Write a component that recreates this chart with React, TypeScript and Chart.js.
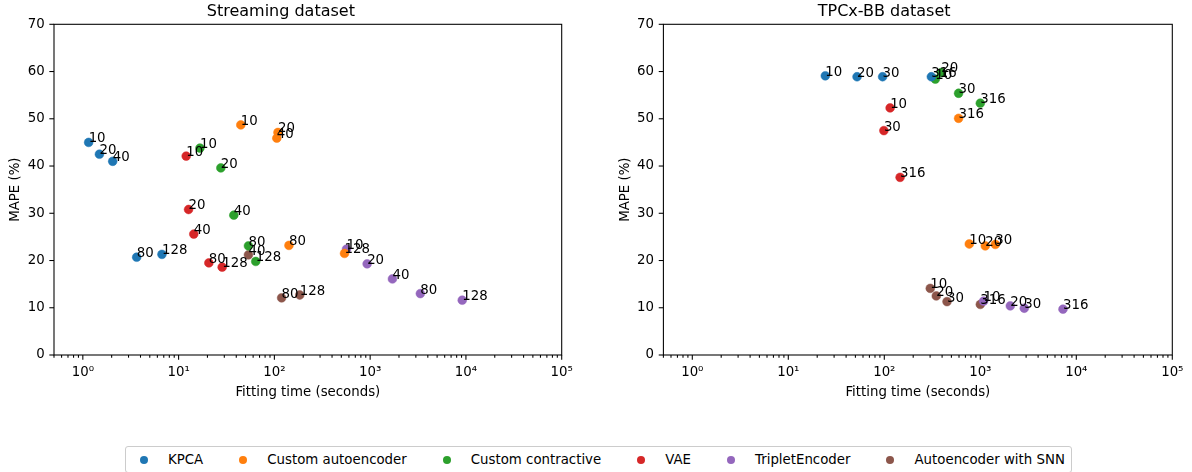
import React, { useEffect, useRef } from 'react';
import { Chart, registerables } from 'chart.js';

Chart.register(...registerables);

// ---------- data ----------
const methods = ['KPCA', 'Custom autoencoder', 'Custom contractive', 'VAE', 'TripletEncoder', 'Autoencoder with SNN'];
const methodColors = ['#1f77b4', '#ff7f0e', '#2ca02c', '#d62728', '#9467bd', '#8c564b'];

const xTickValues = [1, 10, 100, 1000, 10000, 100000];
const yTickValues = [0, 10, 20, 30, 40, 50, 60, 70];

// Streaming dataset
const streamKpcaDims = [10, 20, 40, 80, 128];
const streamKpcaTime = [1.15, 1.49, 2.05, 3.65, 6.7];
const streamKpcaMape = [45.0, 42.5, 41.0, 20.7, 21.3];

const streamAeDims = [10, 20, 40, 80, 128];
const streamAeTime = [44.6, 109, 106, 142, 540];
const streamAeMape = [48.7, 47.1, 45.9, 23.2, 21.5];

const streamCaeDims = [10, 20, 40, 80, 128];
const streamCaeTime = [16.7, 27.6, 37.7, 53.6, 63.9];
const streamCaeMape = [43.8, 39.6, 29.6, 23.1, 19.8];

const streamVaeDims = [10, 20, 40, 80, 128];
const streamVaeTime = [12.0, 12.7, 14.4, 20.7, 28.5];
const streamVaeMape = [42.1, 30.8, 25.6, 19.5, 18.6];

const streamTripletDims = [10, 20, 40, 80, 128];
const streamTripletTime = [566, 930, 1708, 3342, 9150];
const streamTripletMape = [22.4, 19.3, 16.1, 13.0, 11.6];

const streamSnnDims = [40, 80, 128];
const streamSnnTime = [53.6, 119, 184];
const streamSnnMape = [21.2, 12.1, 12.7];

// TPCx-BB dataset
const tpcKpcaDims = [10, 20, 30, 316];
const tpcKpcaTime = [24.3, 52, 96, 309];
const tpcKpcaMape = [59.1, 58.9, 58.9, 58.9];

const tpcAeDims = [10, 20, 30, 316];
const tpcAeTime = [768, 1127, 1433, 594];
const tpcAeMape = [23.5, 23.1, 23.4, 50.1];

const tpcCaeDims = [10, 20, 30, 316];
const tpcCaeTime = [340, 393, 594, 1000];
const tpcCaeMape = [58.4, 59.8, 55.4, 53.3];

const tpcVaeDims = [10, 30, 316];
const tpcVaeTime = [115, 99, 146];
const tpcVaeMape = [52.3, 47.5, 37.6];

const tpcTripletDims = [10, 20, 30, 316];
const tpcTripletTime = [1082, 2054, 2871, 7265];
const tpcTripletMape = [11.4, 10.4, 9.9, 9.7];

const tpcSnnDims = [10, 20, 30, 316];
const tpcSnnTime = [301, 348, 450, 1000];
const tpcSnnMape = [14.1, 12.5, 11.3, 10.7];

type Series = { dims: number[]; time: number[]; mape: number[] };

const streamSeries: Series[] = [
  { dims: streamKpcaDims, time: streamKpcaTime, mape: streamKpcaMape },
  { dims: streamAeDims, time: streamAeTime, mape: streamAeMape },
  { dims: streamCaeDims, time: streamCaeTime, mape: streamCaeMape },
  { dims: streamVaeDims, time: streamVaeTime, mape: streamVaeMape },
  { dims: streamTripletDims, time: streamTripletTime, mape: streamTripletMape },
  { dims: streamSnnDims, time: streamSnnTime, mape: streamSnnMape },
];

const tpcSeries: Series[] = [
  { dims: tpcKpcaDims, time: tpcKpcaTime, mape: tpcKpcaMape },
  { dims: tpcAeDims, time: tpcAeTime, mape: tpcAeMape },
  { dims: tpcCaeDims, time: tpcCaeTime, mape: tpcCaeMape },
  { dims: tpcVaeDims, time: tpcVaeTime, mape: tpcVaeMape },
  { dims: tpcTripletDims, time: tpcTripletTime, mape: tpcTripletMape },
  { dims: tpcSnnDims, time: tpcSnnTime, mape: tpcSnnMape },
];

// ---------- styling ----------
const FONT = '"DejaVu Sans", "Liberation Sans", sans-serif';
const FS = 13.33;
const SUP = ['⁰', '¹', '²', '³', '⁴', '⁵', '⁶'];

const mplPlugin = {
  id: 'mplAxes',
  afterDatasetsDraw(chart: any) {
    const { ctx, chartArea: a, scales } = chart;
    const x = scales.x;
    const y = scales.y;
    ctx.save();
    ctx.strokeStyle = '#000';
    ctx.lineWidth = 1.07;
    // ticks on x (major + minor)
    for (let e = -1; e <= 5; e++) {
      for (let m = 1; m <= 9; m++) {
        const v = m * Math.pow(10, e);
        if (v < x.min * 0.999 || v > x.max * 1.001) continue;
        const px = x.getPixelForValue(v);
        const len = m === 1 ? 4.67 : 2.67;
        ctx.beginPath();
        ctx.moveTo(px, a.bottom);
        ctx.lineTo(px, a.bottom + len);
        ctx.stroke();
      }
    }
    // ticks on y
    yTickValues.forEach((v) => {
      const py = y.getPixelForValue(v);
      ctx.beginPath();
      ctx.moveTo(a.left - 4.67, py);
      ctx.lineTo(a.left, py);
      ctx.stroke();
    });
    // frame
    ctx.strokeRect(a.left, a.top, a.right - a.left, a.bottom - a.top);

    // point annotations
    ctx.fillStyle = '#000';
    ctx.font = `${FS}px ${FONT}`;
    ctx.textAlign = 'left';
    ctx.textBaseline = 'alphabetic';
    chart.data.datasets.forEach((ds: any, i: number) => {
      const meta = chart.getDatasetMeta(i);
      meta.data.forEach((el: any, j: number) => {
        ctx.fillText(String(ds.dims[j]), el.x, el.y);
      });
    });
    ctx.restore();
  },
};

type PanelProps = {
  title: string;
  series: Series[];
  left: number;
  yWidth: number;
  padRight: number;
  yTitlePad: number;
};

function Panel({ title, series, left, yWidth, padRight, yTitlePad }: PanelProps) {
  const ref = useRef<HTMLCanvasElement | null>(null);
  useEffect(() => {
    if (!ref.current) return;
    const datasets = series.map((s, i) => ({
      label: methods[i],
      data: s.time.map((t, j) => ({ x: t, y: s.mape[j] })),
      dims: s.dims,
      backgroundColor: methodColors[i],
      borderColor: methodColors[i],
      borderWidth: 0.5,
      pointRadius: 4.4,
      pointHoverRadius: 4.4,
      showLine: false,
    }));
    const tickFont = { family: FONT, size: FS };
    const chart = new Chart(ref.current, {
      type: 'scatter',
      data: { datasets } as any,
      options: {
        responsive: false,
        animation: false,
        devicePixelRatio: 1,
        layout: { padding: { left: 0, right: padRight, top: 0, bottom: 0 } },
        plugins: {
          legend: { display: false },
          tooltip: { enabled: false },
          title: {
            display: true,
            text: title,
            color: '#000',
            font: { family: FONT, size: 16, weight: 'normal' },
            padding: { top: 2, bottom: 3.1 },
          },
        },
        scales: {
          x: {
            type: 'logarithmic',
            min: 0.5,
            max: 100000,
            afterFit: (s: any) => {
              s.height = 46;
            },
            afterBuildTicks: (s: any) => {
              s.ticks = xTickValues.map((v) => ({ value: v }));
            },
            ticks: {
              autoSkip: false,
              maxRotation: 0,
              minRotation: 0,
              padding: 4.67,
              color: '#000',
              font: tickFont,
              callback: (v: any) => '10' + SUP[Math.round(Math.log10(Number(v)))],
            },
            grid: { display: false, drawTicks: true, tickLength: 4.67 },
            border: { display: false },
            title: {
              display: true,
              text: 'Fitting time (seconds)',
              color: '#000',
              font: tickFont,
              padding: { top: 0, bottom: 0 },
            },
          },
          y: {
            type: 'linear',
            min: 0,
            max: 70,
            afterFit: (s: any) => {
              s.width = yWidth;
            },
            afterBuildTicks: (s: any) => {
              s.ticks = yTickValues.map((v) => ({ value: v }));
            },
            ticks: {
              padding: 4.67,
              color: '#000',
              font: tickFont,
              callback: (v: any) => String(v),
            },
            grid: { display: false, drawTicks: true, tickLength: 4.67 },
            border: { display: false },
            title: {
              display: true,
              text: 'MAPE (%)',
              color: '#000',
              font: tickFont,
              padding: { top: yTitlePad, bottom: 0 },
            },
          },
        },
      } as any,
      plugins: [mplPlugin],
    });
    return () => chart.destroy();
  }, [title, series, yWidth, padRight, yTitlePad]);

  return (
    <canvas
      ref={ref}
      width={596}
      height={401}
      style={{ position: 'absolute', left, top: 0, width: 596, height: 401 }}
    />
  );
}

function Legend() {
  return (
    <div
      style={{
        position: 'absolute',
        left: 125,
        top: 446,
        width: 947,
        height: 27,
        boxSizing: 'border-box',
        border: '1px solid #cccccc',
        borderRadius: 3,
        display: 'flex',
        alignItems: 'center',
        paddingLeft: 14,
        fontFamily: FONT,
        fontSize: FS,
        color: '#000',
        whiteSpace: 'nowrap',
        background: '#fff',
      }}
    >
      {methods.map((m, i) => (
        <div key={m} style={{ display: 'flex', alignItems: 'center', marginLeft: i === 0 ? 0 : 36 }}>
          <span
            style={{
              display: 'inline-block',
              width: 8,
              height: 8,
              borderRadius: '50%',
              background: methodColors[i],
              marginRight: 20,
            }}
          />
          <span>{m}</span>
        </div>
      ))}
    </div>
  );
}

export default function App() {
  return (
    <div style={{ position: 'absolute', left: 0, top: 0, width: 1192, height: 472, background: '#fff', overflow: 'hidden' }}>
      <Panel title="Streaming dataset" series={streamSeries} left={0} yWidth={54} padRight={34.3} yTitlePad={7.7} />
      <Panel title="TPCx-BB dataset" series={tpcSeries} left={596} yWidth={67.4} padRight={19.7} yTitlePad={21.7} />
      <Legend />
    </div>
  );
}
